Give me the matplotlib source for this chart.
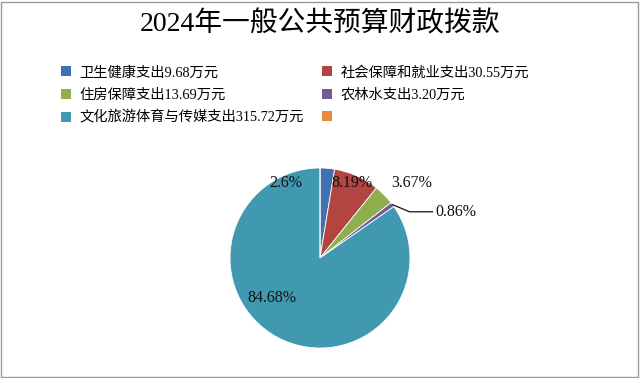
import matplotlib
matplotlib.use("Agg")
import matplotlib.pyplot as plt
import numpy as np
from matplotlib.patches import Rectangle

plt.rcParams['font.family'] = ['Liberation Serif', 'Noto Sans CJK SC', 'DejaVu Sans']

title = "2024年一般公共预算财政拨款"
categories = ["卫生健康支出9.68万元", "社会保障和就业支出30.55万元", "住房保障支出13.69万元",
              "农林水支出3.20万元", "文化旅游体育与传媒支出315.72万元", ""]
values = [9.68, 30.55, 13.69, 3.20, 315.72, 0.0]
pct_labels = ["2.6%", "8.19%", "3.67%", "0.86%", "84.68%", ""]
colors = ["#3F72B0", "#B24442", "#8FAE4E", "#735A97", "#4199B1", "#E88A3C"]

fig = plt.figure(figsize=(6.4, 3.78), dpi=100)
fig.patch.set_facecolor("white")
fig.patches.append(Rectangle((0.002, 0.003), 0.995, 0.993, transform=fig.transFigure,
                             fill=False, edgecolor="#9a9a9a", linewidth=1.0))

fig.text(0.5, 0.935, title, ha="center", va="center", fontsize=20)

# pie axes: center (320,258) px, radius 90 px
cx, cy, r = 320, 258, 90
W, H = 640, 378
ax = fig.add_axes([(cx - r) / W, (H - cy - r) / H, 2 * r / W, 2 * r / H])
wedges, _ = ax.pie(values, colors=colors, startangle=90, counterclock=False,
                   wedgeprops=dict(edgecolor="white", linewidth=0.6), radius=1.0)
ax.set_xlim(-1, 1)
ax.set_ylim(-1, 1)
ax.set_aspect("equal")

# label positions (in pie radius units)
label_pos = {0: (-0.38, 0.83), 1: (0.35, 0.83), 2: (1.02, 0.83), 4: (-0.53, -0.44)}
for i, (x, y) in label_pos.items():
    ax.text(x, y, pct_labels[i], ha="center", va="center", fontsize=11.5, color="#111111")

# leader line for 0.86%
w = wedges[3]
ang = np.deg2rad((w.theta1 + w.theta2) / 2)
x0, y0 = np.cos(ang), np.sin(ang)
ax.plot([x0, 1.05 * x0 + 0.15, 1.25], [y0, y0 - 0.08, y0 - 0.08], color="#111111", lw=0.9,
        clip_on=False)
ax.text(1.28, y0 - 0.08, pct_labels[3], ha="left", va="center", fontsize=11.5, color="#111111")

handles = [Rectangle((0, 0), 1, 1, facecolor=c) for c in colors]
order = [0, 2, 4, 1, 3, 5]
leg = fig.legend([handles[i] for i in order], [categories[i] for i in order],
                 loc="upper left", bbox_to_anchor=(0.075, 0.86), ncol=2, frameon=False,
                 fontsize=10.3, handlelength=0.7, handleheight=0.7, handletextpad=0.6,
                 columnspacing=1.3, labelspacing=0.62)

fig.savefig("out.png", dpi=100)
